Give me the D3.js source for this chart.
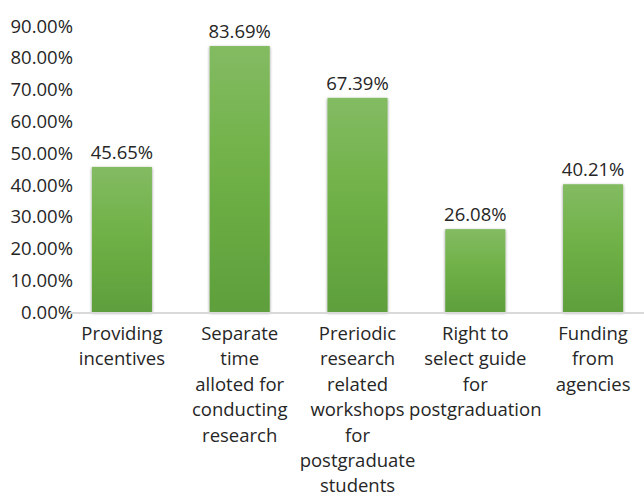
<!DOCTYPE html>
<html>
<head>
<meta charset="utf-8">
<script src="https://cdn.jsdelivr.net/npm/d3@7"></script>
<style>
  body { margin: 0; background: #fff; }
  text { font-family: "Open Sans", sans-serif; fill: #262626; }
</style>
</head>
<body>
<div id="chart"></div>
<script>
const categories = [
  ["Providing", "incentives"],
  ["Separate", "time", "alloted for", "conducting", "research"],
  ["Preriodic", "research", "related", "workshops", "for", "postgraduate", "students"],
  ["Right to", "select guide", "for", "postgraduation"],
  ["Funding", "from", "agencies"]
];
const values = [45.65, 83.69, 67.39, 26.08, 40.21];
const yTicks = [0, 10, 20, 30, 40, 50, 60, 70, 80, 90];

const width = 644, height = 493;

const svg = d3.select("#chart").append("svg")
  .attr("width", width)
  .attr("height", height);

const defs = svg.append("defs");
const grad = defs.append("linearGradient")
  .attr("id", "barGrad")
  .attr("x1", 0).attr("y1", 0).attr("x2", 0).attr("y2", 1);
grad.append("stop").attr("offset", "0%").attr("stop-color", "#83bb62");
grad.append("stop").attr("offset", "50%").attr("stop-color", "#6eb045");
grad.append("stop").attr("offset", "100%").attr("stop-color", "#5e9f3c");

const shadow = defs.append("filter").attr("id", "shadow")
  .attr("x", "-20%").attr("y", "-5%").attr("width", "140%").attr("height", "110%");
shadow.append("feDropShadow")
  .attr("dx", 0).attr("dy", 1).attr("stdDeviation", 1.6)
  .attr("flood-color", "#000").attr("flood-opacity", 0.45);

const xScale = d3.scaleBand()
  .domain(d3.range(values.length))
  .range([63, 652])
  .paddingInner(0.49)
  .paddingOuter(0.245);

const yScale = d3.scaleLinear().domain([0, 90]).range([312, 26]);

// y tick labels
svg.append("g")
  .selectAll("text")
  .data(yTicks)
  .join("text")
    .attr("x", 73)
    .attr("y", d => yScale(d))
    .attr("dy", "0.36em")
    .attr("text-anchor", "end")
    .style("font-size", "18.5px")
    .text(d => d.toFixed(2) + "%");

// bars
svg.append("g")
  .selectAll("rect")
  .data(values)
  .join("rect")
    .attr("x", (d, i) => xScale(i))
    .attr("y", d => yScale(d))
    .attr("width", xScale.bandwidth())
    .attr("height", d => yScale(0) - yScale(d))
    .attr("fill", "url(#barGrad)")
    .attr("filter", "url(#shadow)");

// axis line
svg.append("line")
  .attr("x1", 70).attr("x2", width)
  .attr("y1", yScale(0) + 1).attr("y2", yScale(0) + 1)
  .attr("stroke", "#d9d9d9")
  .attr("stroke-width", 2);

// value labels
svg.append("g")
  .selectAll("text")
  .data(values)
  .join("text")
    .attr("x", (d, i) => xScale(i) + xScale.bandwidth() / 2)
    .attr("y", d => yScale(d) - 8)
    .attr("text-anchor", "middle")
    .style("font-size", "18.5px")
    .text(d => d.toFixed(2) + "%");

// category labels
const cat = svg.append("g")
  .selectAll("text")
  .data(categories)
  .join("text")
    .attr("x", (d, i) => xScale(i) + xScale.bandwidth() / 2)
    .attr("y", 340)
    .attr("text-anchor", "middle")
    .style("font-size", "18.5px");

cat.selectAll("tspan")
  .data(d => d)
  .join("tspan")
    .attr("x", function() { return d3.select(this.parentNode).attr("x"); })
    .attr("dy", (d, i) => i === 0 ? 0 : 25.4)
    .text(d => d);
</script>
</body>
</html>
